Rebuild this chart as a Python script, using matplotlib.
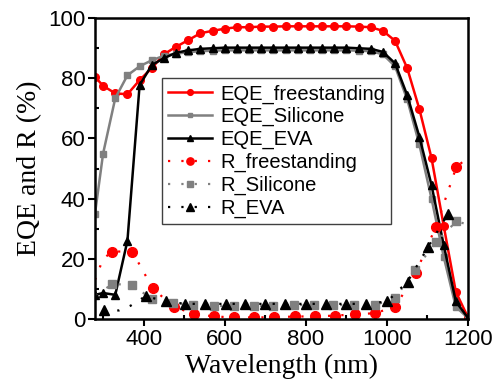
import matplotlib
matplotlib.use('Agg')
import matplotlib.pyplot as plt
from matplotlib.ticker import MultipleLocator

# EQE curves (nm, %)
wl_eqe = [280, 300, 330, 360, 390, 420, 450, 480, 510, 540, 570, 600, 630, 660,
          690, 720, 750, 780, 810, 840, 870, 900, 930, 960, 990, 1020, 1050,
          1080, 1110, 1140, 1170, 1200]
eqe_free = [80.5, 77.5, 75, 74.7, 79.4, 83.4, 88, 90.5, 92.7, 95, 95.8, 96.5, 97,
            97, 97.2, 97.2, 97.3, 97.3, 97.3, 97.3, 97.3, 97.3, 97.2, 97, 95.8,
            92.5, 83.4, 69.8, 53.5, 31, 9, 0.5]
eqe_sil = [35, 55, 73.4, 81, 84, 86, 87.5, 88.2, 88.7, 89, 89.2, 89.3, 89.3, 89.3,
           89.3, 89.3, 89.3, 89.3, 89.3, 89.3, 89.3, 89.3, 89.2, 89, 88, 84, 73,
           58, 40, 20.7, 4, 0.3]
eqe_eva = [8, 8.6, 8, 26, 77.7, 84.4, 86.7, 88.5, 89.3, 89.8, 90, 90.2, 90.2, 90.2,
           90.2, 90.2, 90.2, 90.2, 90.2, 90.2, 90.2, 90.2, 90, 89.8, 88.8, 85,
           74.4, 60.6, 44.5, 24.6, 5.8, 0.3]

# reflectance curves
wl_r_free = [280, 300, 323, 372, 422, 474, 524, 573, 622, 671, 721, 773, 823, 872,
             921, 971, 1021, 1071, 1121, 1171, 1198]
r_free = [13, 20, 22.4, 22.4, 10.2, 4, 1.7, 0.8, 0.5, 0.5, 0.5, 0.8, 0.8, 1.1,
          1.5, 1.9, 4.1, 15.2, 30.7, 50.4, 53.5]
wl_r_sil = [280, 300, 323, 372, 421, 473, 522, 573, 622, 671, 720, 770, 819, 868,
            918, 970, 1020, 1069, 1122, 1171, 1198]
r_sil = [8, 9.5, 11.6, 11.3, 6.5, 5.4, 4.6, 4.3, 4.3, 4.3, 4.3, 4.6, 4.6, 4.6,
         4.6, 4.6, 6.8, 16.3, 25.7, 32.4, 31.5]
wl_r_eva = [302, 339, 368, 405, 454, 503, 552, 602, 651, 700, 749, 801, 850, 899,
            948, 1001, 1051, 1102, 1151]
r_eva = [3, 2.8, 4.4, 7.6, 5.8, 5, 5, 5, 5, 5, 5, 5, 5, 5, 5, 5.8, 12.4, 24, 35]

RED = '#ff0000'
GRAY = '#808080'

fig = plt.figure(figsize=(5, 3.87), dpi=100)
ax = fig.add_axes([0.19, 0.176, 0.746, 0.777])

ax.plot(wl_eqe, eqe_free, color=RED, lw=1.8, marker='o', ms=5.5, label='EQE_freestanding')
ax.plot(wl_eqe, eqe_sil, color=GRAY, lw=1.8, marker='s', ms=4.5, label='EQE_Silicone')
ax.plot(wl_eqe, eqe_eva, color='black', lw=1.8, marker='^', ms=5.5, label='EQE_EVA')

dot = (0, (1, 5))
ax.plot(wl_r_free, r_free, color=RED, lw=1.6, ls=dot, marker='o', ms=7,
        markevery=list(range(2, len(r_free) - 1)), label='R_freestanding')
ax.plot(wl_r_sil, r_sil, color=GRAY, lw=1.6, ls=dot, marker='s', ms=6,
        markevery=list(range(2, len(r_sil) - 1)), label='R_Silicone')
eva_marks = [0] + list(range(3, len(r_eva)))
ax.plot(wl_r_eva, r_eva, color='black', lw=1.6, ls=dot, marker='^', ms=7,
        markevery=eva_marks, label='R_EVA')

ax.set_xlim(280, 1200)
ax.set_ylim(0, 100)
ax.xaxis.set_major_locator(MultipleLocator(200))
ax.xaxis.set_minor_locator(MultipleLocator(100))
ax.yaxis.set_major_locator(MultipleLocator(20))
ax.yaxis.set_minor_locator(MultipleLocator(10))
ax.tick_params(which='major', direction='out', length=5, width=1.5, pad=2)
ax.tick_params(which='minor', direction='in', length=3, width=1.5)
for lab in ax.get_xticklabels() + ax.get_yticklabels():
    lab.set_family('Liberation Sans')
    lab.set_fontsize(16)
for s in ax.spines.values():
    s.set_linewidth(1.8)

ax.set_xlabel('Wavelength (nm)', family='Liberation Serif', fontsize=20, labelpad=3)
ax.set_ylabel('EQE and R (%)', family='Liberation Serif', fontsize=20, labelpad=4)

leg = ax.legend(loc='upper left', bbox_to_anchor=(0.18, 0.80), borderaxespad=0,
                prop={'family': 'Liberation Sans', 'size': 14.5}, fancybox=False,
                framealpha=1, edgecolor='#404040', handlelength=2.2,
                handletextpad=0.4, labelspacing=0.18, borderpad=0.3, markerscale=0.75)
leg.get_frame().set_linewidth(1.0)

fig.savefig('out.png', dpi=100)
